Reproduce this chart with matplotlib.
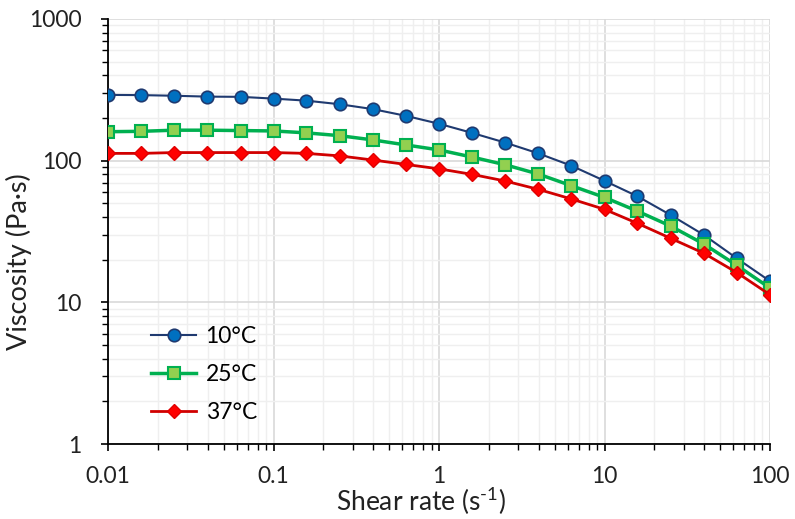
"""
Viscosity vs shear rate at three temperatures (log-log flow curves).
"""
import matplotlib.pyplot as plt
from matplotlib.ticker import LogLocator, NullFormatter, FuncFormatter

plt.rcParams["font.family"] = ["Lato", "DejaVu Sans"]
plt.rcParams["mathtext.fontset"] = "custom"
plt.rcParams["mathtext.rm"] = "Lato"
plt.rcParams["mathtext.default"] = "regular"

shear_rate = [0.01, 0.0158, 0.0251, 0.0398, 0.0631,
              0.1, 0.158, 0.251, 0.398, 0.631,
              1.0, 1.58, 2.51, 3.98, 6.31,
              10.0, 15.8, 25.1, 39.8, 63.1, 100.0]

visc_10c = [291, 290, 287, 283, 282, 274, 265, 250, 231, 207,
            182, 157, 134, 112.5, 92, 72, 56, 41.3, 29.9, 20.4, 14.1]
visc_25c = [160, 161, 164, 164, 163, 162, 157, 150, 140, 129,
            119, 106, 93.5, 80.4, 66.5, 55, 44, 34.5, 25.8, 18.2, 12.6]
visc_37c = [112.5, 112.5, 114, 114, 114, 114, 112.5, 108, 101, 94,
            87.5, 80, 71.8, 62.7, 53.6, 45.3, 36.1, 28.3, 22.2, 16.2, 11.3]

series = [
    ("10°C", visc_10c, dict(color="#1f3a70", lw=1.5, marker="o", ms=9,
                            mfc="#0070c0", mec="#1f3a70", mew=1.2)),
    ("25°C", visc_25c, dict(color="#00b050", lw=2.5, marker="s", ms=8.5,
                            mfc="#92d050", mec="#00b050", mew=1.5)),
    ("37°C", visc_37c, dict(color="#d00000", lw=2.0, marker="D", ms=7.5,
                            mfc="#ff0000", mec="#e00000", mew=1.0)),
]

fig = plt.figure(figsize=(7.95, 5.19), dpi=100)
ax = fig.add_axes([0.136, 0.1445, 0.8326, 0.819])

for label, values, style in series:
    ax.plot(shear_rate, values, label=label, zorder=3, **style)

ax.set_xscale("log")
ax.set_yscale("log")
ax.set_xlim(0.01, 100)
ax.set_ylim(1, 1000)

fmt = FuncFormatter(lambda v, _: f"{v:g}")
ax.xaxis.set_major_formatter(fmt)
ax.yaxis.set_major_formatter(fmt)
for axis in (ax.xaxis, ax.yaxis):
    axis.set_minor_locator(LogLocator(base=10, subs=range(2, 10)))
    axis.set_minor_formatter(NullFormatter())

ax.grid(which="major", color="#d9d9d9", lw=1.2, zorder=0)
ax.grid(which="minor", color="#efefef", lw=1.0, zorder=0)
ax.set_axisbelow(True)

for side in ("top", "right"):
    ax.spines[side].set_visible(False)
for side in ("left", "bottom"):
    ax.spines[side].set_color("black")
    ax.spines[side].set_linewidth(1.3)

ax.tick_params(which="major", direction="out", length=5, width=1.2,
               labelsize=16.5, labelcolor="#222222")
ax.tick_params(axis="y", which="major", pad=14)
ax.tick_params(axis="x", which="major", pad=11)
ax.tick_params(which="minor", direction="out", length=4, width=1.0)

ax.set_xlabel(r"Shear rate (s$^{\text{-1}}$)", fontsize=19,
              color="#222222")
ax.set_ylabel("Viscosity (Pa·s)", fontsize=19.5, color="#222222")
ax.xaxis.set_label_coords(0.473, -0.097)
ax.yaxis.set_label_coords(-0.115, 0.43)

ax.legend(loc="lower left", bbox_to_anchor=(0.033, 0.0), frameon=False,
          fontsize=16.5, handlelength=2.0, labelspacing=0.75,
          handletextpad=0.4)

fig.savefig("out.png", dpi=100)
plt.close(fig)
